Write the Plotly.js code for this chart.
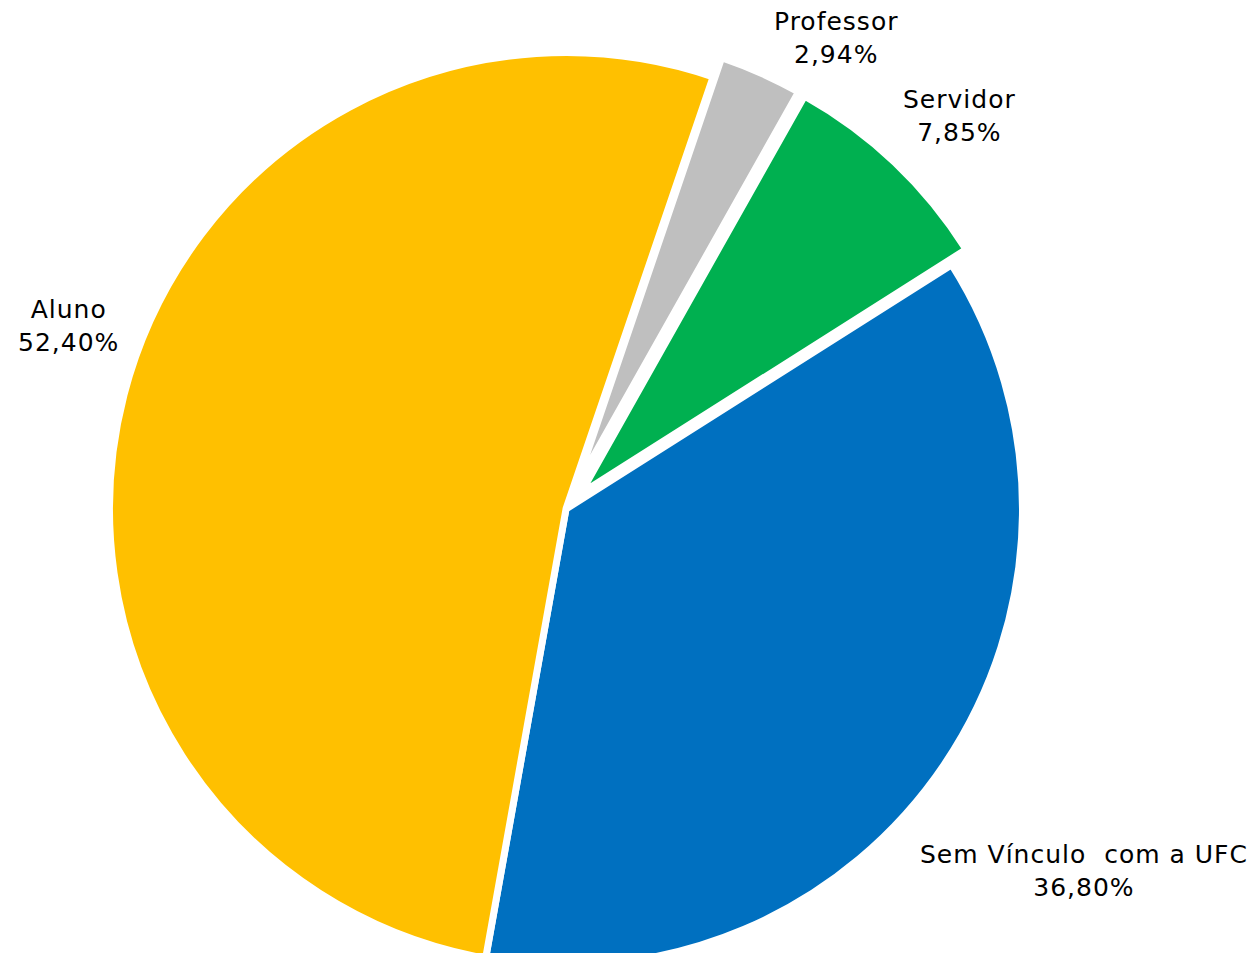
<!DOCTYPE html>
<html>
<head>
<meta charset="utf-8">
<script src="https://cdn.plot.ly/plotly-3.0.1.min.js"></script>
<style>
html,body{margin:0;padding:0;background:#fff;overflow:hidden;}
#wrap{width:1251px;height:953px;overflow:hidden;}
#chart{width:1251px;height:1010px;}
.annotation-text{letter-spacing:1px;}
</style>
</head>
<body>
<div id="wrap"><div id="chart"></div></div>
<script>
// Data
const categories = ["Professor", "Servidor", "Sem Vínculo  com a UFC", "Aluno"];
const shares = [2.94, 7.85, 36.80, 52.40];
const colors = ["#BFBFBF", "#00B050", "#0070C0", "#FFC000"];
const explode = [0.046, 0.046, 0, 0];

// Figure geometry (the reference crops the bottom of the pie)
const W = 1251, H = 1010;
const cx = 566, cy = 509, r = 456.5;
const half = r * (1 + Math.max(...explode));

// Layout positions for the data labels (pixels from top-left)
const labelPx = [836, 959, 1084, 68];
const labelPy = [38, 116, 871, 326];

const fmt = v => v.toFixed(2).replace('.', ',') + '%';

const annotations = categories.map((c, i) => ({
  x: labelPx[i] / W, y: 1 - labelPy[i] / H, xref: 'paper', yref: 'paper',
  xanchor: 'center', yanchor: 'middle', showarrow: false,
  text: c.replace(/ /g, '&nbsp;') + '<br>' + fmt(shares[i]),
  font: {family: 'DejaVu Sans, Verdana, sans-serif', size: 25, color: '#000'}
}));

const trace = {
  type: 'pie',
  labels: categories,
  values: shares,
  sort: false,
  direction: 'clockwise',
  rotation: 18.8,
  pull: explode,
  marker: {colors: colors, line: {color: '#FFFFFF', width: 7}},
  textinfo: 'none',
  hoverinfo: 'none',
  showlegend: false,
  domain: {x: [(cx - half) / W, (cx + half) / W], y: [1 - (cy + half) / H, 1 - (cy - half) / H]}
};

const layout = {
  width: W, height: H,
  margin: {l: 0, r: 0, t: 0, b: 0},
  paper_bgcolor: '#FFFFFF',
  separators: ',.',
  showlegend: false,
  annotations: annotations
};

Plotly.newPlot('chart', [trace], layout, {displayModeBar: false, staticPlot: true});
</script>
</body>
</html>
